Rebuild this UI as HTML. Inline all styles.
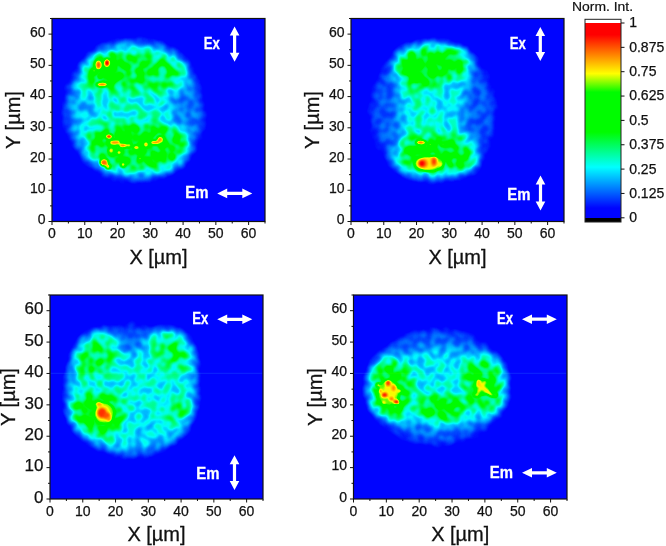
<!DOCTYPE html><html><head><meta charset="utf-8"><style>html,body{margin:0;padding:0;background:#fff;overflow:hidden}svg{display:block}</style></head><body><svg width="666" height="546" viewBox="0 0 666 546" font-family='"Liberation Sans", sans-serif'><defs><linearGradient id="cb" x1="0" y1="0" x2="0" y2="1"><stop offset="0" stop-color="#fff"/><stop offset="0.0173" stop-color="#fff"/><stop offset="0.0183" stop-color="rgb(255,0,0)"/><stop offset="0.0759" stop-color="rgb(255,0,0)"/><stop offset="0.2681" stop-color="rgb(255,255,0)"/><stop offset="0.3594" stop-color="rgb(0,252,0)"/><stop offset="0.5564" stop-color="rgb(0,252,0)"/><stop offset="0.7294" stop-color="rgb(0,255,255)"/><stop offset="0.9312" stop-color="rgb(0,4,255)"/><stop offset="0.9793" stop-color="rgb(0,4,255)"/><stop offset="0.9808" stop-color="#000"/><stop offset="1" stop-color="#000"/></linearGradient><clipPath id="c0"><rect x="0" y="0" width="213" height="203.0"/></clipPath><filter id="f0" x="0" y="0" width="213" height="203.0" filterUnits="userSpaceOnUse" color-interpolation-filters="sRGB">
<feComponentTransfer><feFuncR type="table" tableValues="0.000 0.000 0.000 0.000 0.000 0.000 0.000 0.000 0.000 0.000 0.000 0.000 0.000 0.000 0.000 0.000 0.000 0.000 0.000 0.000 0.000 0.000 0.000 0.000 0.000 0.000 0.000 0.000 0.000 0.000 0.000 0.000 0.000 0.000 0.000 0.000 0.000 0.000 0.000 0.000 0.000 0.061 0.228 0.395 0.562 0.729 0.896 1.000 1.000 1.000 1.000 1.000 1.000 1.000 1.000 1.000 1.000 1.000 1.000 1.000 1.000 1.000 1.000 1.000"/><feFuncG type="table" tableValues="0.016 0.016 0.016 0.016 0.079 0.153 0.228 0.302 0.377 0.451 0.525 0.600 0.674 0.749 0.823 0.897 0.972 0.999 0.998 0.997 0.996 0.995 0.994 0.993 0.992 0.991 0.990 0.989 0.988 0.988 0.988 0.988 0.988 0.988 0.988 0.988 0.988 0.988 0.988 0.988 0.988 0.989 0.991 0.993 0.995 0.997 0.999 0.970 0.890 0.811 0.732 0.652 0.573 0.494 0.414 0.335 0.256 0.176 0.097 0.017 0.000 0.000 0.000 0.000"/><feFuncB type="table" tableValues="1.000 1.000 1.000 1.000 1.000 1.000 1.000 1.000 1.000 1.000 1.000 1.000 1.000 1.000 1.000 1.000 1.000 0.945 0.857 0.769 0.681 0.593 0.504 0.416 0.328 0.240 0.152 0.063 0.000 0.000 0.000 0.000 0.000 0.000 0.000 0.000 0.000 0.000 0.000 0.000 0.000 0.000 0.000 0.000 0.000 0.000 0.000 0.000 0.000 0.000 0.000 0.000 0.000 0.000 0.000 0.000 0.000 0.000 0.000 0.000 0.000 0.000 0.000 0.000"/><feFuncA type="linear" slope="0" intercept="1"/></feComponentTransfer>
</filter>
<filter id="s0" x="0" y="0" width="213" height="203.0" filterUnits="userSpaceOnUse" color-interpolation-filters="sRGB">
<feGaussianBlur in="SourceGraphic" stdDeviation="6" result="bl"/>
<feTurbulence type="fractalNoise" baseFrequency="0.14" numOctaves="1" seed="3" result="t"/>
<feColorMatrix in="t" type="matrix" values="1 0 0 0 0  1 0 0 0 0  1 0 0 0 0  0 0 0 0 1" result="g"/>
<feComponentTransfer in="g" result="n"><feFuncR type="linear" slope="4" intercept="-1.500"/><feFuncG type="linear" slope="4" intercept="-1.500"/><feFuncB type="linear" slope="4" intercept="-1.500"/></feComponentTransfer>
<feComposite in="bl" in2="n" operator="arithmetic" k1="0.450" k2="0.700" k3="0" k4="0"/>
<feGaussianBlur stdDeviation="1.3"/>
</filter>
<filter id="h0" x="-20" y="-20" width="253" height="243.0" filterUnits="userSpaceOnUse" color-interpolation-filters="sRGB"><feGaussianBlur stdDeviation="1.0"/></filter><clipPath id="c1"><rect x="0" y="0" width="213" height="203.0"/></clipPath><filter id="f1" x="0" y="0" width="213" height="203.0" filterUnits="userSpaceOnUse" color-interpolation-filters="sRGB">
<feComponentTransfer><feFuncR type="table" tableValues="0.000 0.000 0.000 0.000 0.000 0.000 0.000 0.000 0.000 0.000 0.000 0.000 0.000 0.000 0.000 0.000 0.000 0.000 0.000 0.000 0.000 0.000 0.000 0.000 0.000 0.000 0.000 0.000 0.000 0.000 0.000 0.000 0.000 0.000 0.000 0.000 0.000 0.000 0.000 0.000 0.000 0.061 0.228 0.395 0.562 0.729 0.896 1.000 1.000 1.000 1.000 1.000 1.000 1.000 1.000 1.000 1.000 1.000 1.000 1.000 1.000 1.000 1.000 1.000"/><feFuncG type="table" tableValues="0.016 0.016 0.016 0.016 0.079 0.153 0.228 0.302 0.377 0.451 0.525 0.600 0.674 0.749 0.823 0.897 0.972 0.999 0.998 0.997 0.996 0.995 0.994 0.993 0.992 0.991 0.990 0.989 0.988 0.988 0.988 0.988 0.988 0.988 0.988 0.988 0.988 0.988 0.988 0.988 0.988 0.989 0.991 0.993 0.995 0.997 0.999 0.970 0.890 0.811 0.732 0.652 0.573 0.494 0.414 0.335 0.256 0.176 0.097 0.017 0.000 0.000 0.000 0.000"/><feFuncB type="table" tableValues="1.000 1.000 1.000 1.000 1.000 1.000 1.000 1.000 1.000 1.000 1.000 1.000 1.000 1.000 1.000 1.000 1.000 0.945 0.857 0.769 0.681 0.593 0.504 0.416 0.328 0.240 0.152 0.063 0.000 0.000 0.000 0.000 0.000 0.000 0.000 0.000 0.000 0.000 0.000 0.000 0.000 0.000 0.000 0.000 0.000 0.000 0.000 0.000 0.000 0.000 0.000 0.000 0.000 0.000 0.000 0.000 0.000 0.000 0.000 0.000 0.000 0.000 0.000 0.000"/><feFuncA type="linear" slope="0" intercept="1"/></feComponentTransfer>
</filter>
<filter id="s1" x="0" y="0" width="213" height="203.0" filterUnits="userSpaceOnUse" color-interpolation-filters="sRGB">
<feGaussianBlur in="SourceGraphic" stdDeviation="6" result="bl"/>
<feTurbulence type="fractalNoise" baseFrequency="0.14" numOctaves="1" seed="4" result="t"/>
<feColorMatrix in="t" type="matrix" values="1 0 0 0 0  1 0 0 0 0  1 0 0 0 0  0 0 0 0 1" result="g"/>
<feComponentTransfer in="g" result="n"><feFuncR type="linear" slope="4" intercept="-1.500"/><feFuncG type="linear" slope="4" intercept="-1.500"/><feFuncB type="linear" slope="4" intercept="-1.500"/></feComponentTransfer>
<feComposite in="bl" in2="n" operator="arithmetic" k1="0.450" k2="0.700" k3="0" k4="0"/>
<feGaussianBlur stdDeviation="1.3"/>
</filter>
<filter id="h1" x="-20" y="-20" width="253" height="243.0" filterUnits="userSpaceOnUse" color-interpolation-filters="sRGB"><feGaussianBlur stdDeviation="1.0"/></filter><clipPath id="c2"><rect x="0" y="0" width="213" height="204"/></clipPath><filter id="f2" x="0" y="0" width="213" height="204" filterUnits="userSpaceOnUse" color-interpolation-filters="sRGB">
<feComponentTransfer><feFuncR type="table" tableValues="0.000 0.000 0.000 0.000 0.000 0.000 0.000 0.000 0.000 0.000 0.000 0.000 0.000 0.000 0.000 0.000 0.000 0.000 0.000 0.000 0.000 0.000 0.000 0.000 0.000 0.000 0.000 0.000 0.000 0.000 0.000 0.000 0.000 0.000 0.000 0.000 0.000 0.000 0.000 0.000 0.000 0.061 0.228 0.395 0.562 0.729 0.896 1.000 1.000 1.000 1.000 1.000 1.000 1.000 1.000 1.000 1.000 1.000 1.000 1.000 1.000 1.000 1.000 1.000"/><feFuncG type="table" tableValues="0.016 0.016 0.016 0.016 0.079 0.153 0.228 0.302 0.377 0.451 0.525 0.600 0.674 0.749 0.823 0.897 0.972 0.999 0.998 0.997 0.996 0.995 0.994 0.993 0.992 0.991 0.990 0.989 0.988 0.988 0.988 0.988 0.988 0.988 0.988 0.988 0.988 0.988 0.988 0.988 0.988 0.989 0.991 0.993 0.995 0.997 0.999 0.970 0.890 0.811 0.732 0.652 0.573 0.494 0.414 0.335 0.256 0.176 0.097 0.017 0.000 0.000 0.000 0.000"/><feFuncB type="table" tableValues="1.000 1.000 1.000 1.000 1.000 1.000 1.000 1.000 1.000 1.000 1.000 1.000 1.000 1.000 1.000 1.000 1.000 0.945 0.857 0.769 0.681 0.593 0.504 0.416 0.328 0.240 0.152 0.063 0.000 0.000 0.000 0.000 0.000 0.000 0.000 0.000 0.000 0.000 0.000 0.000 0.000 0.000 0.000 0.000 0.000 0.000 0.000 0.000 0.000 0.000 0.000 0.000 0.000 0.000 0.000 0.000 0.000 0.000 0.000 0.000 0.000 0.000 0.000 0.000"/><feFuncA type="linear" slope="0" intercept="1"/></feComponentTransfer>
</filter>
<filter id="s2" x="0" y="0" width="213" height="204" filterUnits="userSpaceOnUse" color-interpolation-filters="sRGB">
<feGaussianBlur in="SourceGraphic" stdDeviation="6" result="bl"/>
<feTurbulence type="fractalNoise" baseFrequency="0.14" numOctaves="1" seed="5" result="t"/>
<feColorMatrix in="t" type="matrix" values="1 0 0 0 0  1 0 0 0 0  1 0 0 0 0  0 0 0 0 1" result="g"/>
<feComponentTransfer in="g" result="n"><feFuncR type="linear" slope="4" intercept="-1.500"/><feFuncG type="linear" slope="4" intercept="-1.500"/><feFuncB type="linear" slope="4" intercept="-1.500"/></feComponentTransfer>
<feComposite in="bl" in2="n" operator="arithmetic" k1="0.450" k2="0.700" k3="0" k4="0"/>
<feGaussianBlur stdDeviation="1.3"/>
</filter>
<filter id="h2" x="-20" y="-20" width="253" height="244" filterUnits="userSpaceOnUse" color-interpolation-filters="sRGB"><feGaussianBlur stdDeviation="1.0"/></filter><clipPath id="c3"><rect x="0" y="0" width="213.5" height="204"/></clipPath><filter id="f3" x="0" y="0" width="213.5" height="204" filterUnits="userSpaceOnUse" color-interpolation-filters="sRGB">
<feComponentTransfer><feFuncR type="table" tableValues="0.000 0.000 0.000 0.000 0.000 0.000 0.000 0.000 0.000 0.000 0.000 0.000 0.000 0.000 0.000 0.000 0.000 0.000 0.000 0.000 0.000 0.000 0.000 0.000 0.000 0.000 0.000 0.000 0.000 0.000 0.000 0.000 0.000 0.000 0.000 0.000 0.000 0.000 0.000 0.000 0.000 0.061 0.228 0.395 0.562 0.729 0.896 1.000 1.000 1.000 1.000 1.000 1.000 1.000 1.000 1.000 1.000 1.000 1.000 1.000 1.000 1.000 1.000 1.000"/><feFuncG type="table" tableValues="0.016 0.016 0.016 0.016 0.079 0.153 0.228 0.302 0.377 0.451 0.525 0.600 0.674 0.749 0.823 0.897 0.972 0.999 0.998 0.997 0.996 0.995 0.994 0.993 0.992 0.991 0.990 0.989 0.988 0.988 0.988 0.988 0.988 0.988 0.988 0.988 0.988 0.988 0.988 0.988 0.988 0.989 0.991 0.993 0.995 0.997 0.999 0.970 0.890 0.811 0.732 0.652 0.573 0.494 0.414 0.335 0.256 0.176 0.097 0.017 0.000 0.000 0.000 0.000"/><feFuncB type="table" tableValues="1.000 1.000 1.000 1.000 1.000 1.000 1.000 1.000 1.000 1.000 1.000 1.000 1.000 1.000 1.000 1.000 1.000 0.945 0.857 0.769 0.681 0.593 0.504 0.416 0.328 0.240 0.152 0.063 0.000 0.000 0.000 0.000 0.000 0.000 0.000 0.000 0.000 0.000 0.000 0.000 0.000 0.000 0.000 0.000 0.000 0.000 0.000 0.000 0.000 0.000 0.000 0.000 0.000 0.000 0.000 0.000 0.000 0.000 0.000 0.000 0.000 0.000 0.000 0.000"/><feFuncA type="linear" slope="0" intercept="1"/></feComponentTransfer>
</filter>
<filter id="s3" x="0" y="0" width="213.5" height="204" filterUnits="userSpaceOnUse" color-interpolation-filters="sRGB">
<feGaussianBlur in="SourceGraphic" stdDeviation="6" result="bl"/>
<feTurbulence type="fractalNoise" baseFrequency="0.14" numOctaves="1" seed="6" result="t"/>
<feColorMatrix in="t" type="matrix" values="1 0 0 0 0  1 0 0 0 0  1 0 0 0 0  0 0 0 0 1" result="g"/>
<feComponentTransfer in="g" result="n"><feFuncR type="linear" slope="4" intercept="-1.500"/><feFuncG type="linear" slope="4" intercept="-1.500"/><feFuncB type="linear" slope="4" intercept="-1.500"/></feComponentTransfer>
<feComposite in="bl" in2="n" operator="arithmetic" k1="0.450" k2="0.700" k3="0" k4="0"/>
<feGaussianBlur stdDeviation="1.3"/>
</filter>
<filter id="h3" x="-20" y="-20" width="253.5" height="244" filterUnits="userSpaceOnUse" color-interpolation-filters="sRGB"><feGaussianBlur stdDeviation="1.0"/></filter></defs><g transform="translate(52,18.5)" clip-path="url(#c0)"><g filter="url(#f0)"><rect x="0" y="0" width="213" height="203.0" fill="#000"/><g filter="url(#s0)"><rect x="-30" y="-30" width="273" height="263.0" fill="#000"/><ellipse cx="82" cy="92" rx="70" ry="72" fill="rgb(36,36,36)"/><ellipse cx="28" cy="92" rx="16" ry="36" fill="rgb(43,43,43)"/><path d="M56,29 L84,27 L112,30 L129,40 L138,53 L136,66 L122,74 L116,90 L121,106 L139,116 L138,134 L127,148 L104,154 L68,153 L45,144 L32,127 L24,105 L22,82 L27,60 L38,41Z" fill="rgb(79,79,79)"/><path d="M120,64 L140,60 L150,80 L152,105 L146,125 L132,122 L120,110 L115,90Z" fill="rgb(43,43,43)"/><path d="M38,40 L60,33 L90,34 L115,37 L130,48 L133,62 L120,70 L80,71 L45,70 L34,58Z" fill="rgb(112,112,112)"/><ellipse cx="55" cy="52" rx="20" ry="15" fill="rgb(138,138,138)"/><ellipse cx="34" cy="90" rx="12" ry="15" fill="rgb(56,56,56)"/><path d="M40,112 L70,106 L100,107 L126,111 L135,123 L129,140 L113,150 L75,151 L50,146 L36,133Z" fill="rgb(128,128,128)"/></g><g filter="url(#h0)"><ellipse cx="46.5" cy="46.5" rx="4" ry="5.5" fill="rgb(184,184,184)"/><ellipse cx="55" cy="44.5" rx="3.6" ry="4.8" fill="rgb(184,184,184)"/><ellipse cx="46.5" cy="46.5" rx="2.2" ry="3.4" fill="rgb(224,224,224)"/><ellipse cx="55" cy="44.5" rx="2.2" ry="3" fill="rgb(245,245,245)"/><ellipse cx="50" cy="66" rx="6" ry="2.2" fill="rgb(217,217,217)"/><ellipse cx="48" cy="58" rx="1.5" ry="1.8" fill="rgb(199,199,199)"/><ellipse cx="42" cy="52" rx="1.5" ry="1.5" fill="rgb(194,194,194)"/><ellipse cx="57" cy="118" rx="3.5" ry="2.5" fill="rgb(230,230,230)"/><ellipse cx="63" cy="124" rx="5" ry="2.2" fill="rgb(214,214,214)"/><ellipse cx="71" cy="127" rx="4" ry="2.2" fill="rgb(214,214,214)"/><ellipse cx="77" cy="127" rx="2.5" ry="1.8" fill="rgb(199,199,199)"/><ellipse cx="84" cy="129" rx="3" ry="2.2" fill="rgb(204,204,204)"/><ellipse cx="94" cy="126" rx="2.5" ry="3" fill="rgb(199,199,199)"/><ellipse cx="103" cy="124" rx="4.5" ry="2.2" fill="rgb(214,214,214)"/><ellipse cx="108" cy="121" rx="3" ry="3.2" fill="rgb(209,209,209)"/><ellipse cx="52" cy="144" rx="4" ry="3.5" fill="rgb(219,219,219)"/><ellipse cx="56" cy="148" rx="2.5" ry="2.5" fill="rgb(204,204,204)"/><ellipse cx="59" cy="132" rx="2.5" ry="2.5" fill="rgb(194,194,194)"/><ellipse cx="67" cy="134" rx="2.5" ry="2.5" fill="rgb(194,194,194)"/><ellipse cx="71" cy="146" rx="2.5" ry="2.5" fill="rgb(194,194,194)"/><ellipse cx="88" cy="140" rx="2" ry="2" fill="rgb(189,189,189)"/></g></g></g><g transform="translate(351,18.5)" clip-path="url(#c1)"><g filter="url(#f1)"><rect x="0" y="0" width="213" height="203.0" fill="#000"/><g filter="url(#s1)"><rect x="-30" y="-30" width="273" height="263.0" fill="#000"/><ellipse cx="82" cy="93" rx="64" ry="70" fill="rgb(33,33,33)"/><path d="M46,40 L60,30 L82,27 L104,29 L120,38 L116,60 L112,90 L114,118 L130,138 L124,152 L100,157 L70,157 L42,148 L48,120 L50,90 L46,62Z" fill="rgb(69,69,69)"/><path d="M48,36 L60,30 L80,28 L100,29 L114,34 L119,43 L110,55 L95,60 L75,68 L58,70 L50,58 L45,46Z" fill="rgb(138,138,138)"/><ellipse cx="70" cy="90" rx="15" ry="20" fill="rgb(82,82,82)"/><path d="M55,119 L85,116 L112,119 L122,134 L122,149 L106,153 L75,154 L52,150 L47,138Z" fill="rgb(128,128,128)"/></g><g filter="url(#h1)"><ellipse cx="78" cy="145" rx="15" ry="8" fill="rgb(173,173,173)"/><ellipse cx="76" cy="145" rx="11" ry="6.5" fill="rgb(191,191,191)"/><ellipse cx="72" cy="145" rx="5" ry="4.5" fill="rgb(214,214,214)"/><ellipse cx="83" cy="143" rx="3.5" ry="5.5" fill="rgb(209,209,209)"/><ellipse cx="71" cy="145" rx="2.8" ry="2.8" fill="rgb(242,242,242)"/><ellipse cx="83" cy="143" rx="1.8" ry="3" fill="rgb(230,230,230)"/><ellipse cx="89" cy="146" rx="3" ry="2.5" fill="rgb(189,189,189)"/><ellipse cx="70" cy="124" rx="5.5" ry="2.2" fill="rgb(209,209,209)"/><ellipse cx="69" cy="124" rx="2.5" ry="1.5" fill="rgb(224,224,224)"/><ellipse cx="79" cy="126" rx="2" ry="1.5" fill="rgb(189,189,189)"/><ellipse cx="92" cy="126" rx="2.5" ry="1.5" fill="rgb(184,184,184)"/></g></g></g><g transform="translate(50,295)" clip-path="url(#c2)"><g filter="url(#f2)"><rect x="0" y="0" width="213" height="204" fill="#000"/><g filter="url(#s2)"><rect x="-30" y="-30" width="273" height="264" fill="#000"/><ellipse cx="81" cy="97" rx="66" ry="65" fill="rgb(38,38,38)"/><path d="M30,45 L45,35 L60,35 L68,42 L80,64 L94,44 L102,36 L122,34 L138,43 L145,62 L146,90 L144,115 L136,135 L118,150 L90,155 L60,153 L40,144 L26,128 L20,105 L20,80 L23,60Z" fill="rgb(74,74,74)"/><ellipse cx="81" cy="42" rx="15" ry="15" fill="rgb(33,33,33)"/><path d="M30,52 L45,42 L60,44 L66,58 L60,76 L45,84 L30,80 L26,66Z" fill="rgb(112,112,112)"/><path d="M106,40 L122,38 L138,48 L142,64 L138,76 L120,72 L108,64 L104,52Z" fill="rgb(110,110,110)"/><path d="M22,104 L40,98 L62,100 L74,112 L72,130 L60,142 L40,142 L26,132 L20,118Z" fill="rgb(128,128,128)"/><ellipse cx="127" cy="116" rx="16" ry="8" fill="rgb(117,117,117)"/><ellipse cx="95" cy="138" rx="24" ry="13" fill="rgb(64,64,64)"/></g><g filter="url(#h2)"><ellipse cx="54" cy="118" rx="10" ry="11" fill="rgb(178,178,178)"/><ellipse cx="53" cy="118" rx="7" ry="7.5" fill="rgb(194,194,194)"/><ellipse cx="52" cy="118" rx="4.5" ry="5" fill="rgb(230,230,230)"/><ellipse cx="57" cy="121" rx="3.5" ry="3.5" fill="rgb(224,224,224)"/><ellipse cx="49" cy="109" rx="3.5" ry="2.5" fill="rgb(204,204,204)"/><ellipse cx="59" cy="124" rx="2.5" ry="2.5" fill="rgb(209,209,209)"/><ellipse cx="41" cy="126" rx="2" ry="3" fill="rgb(168,168,168)"/></g></g></g><g transform="translate(353.5,295)" clip-path="url(#c3)"><g filter="url(#f3)"><rect x="0" y="0" width="213.5" height="204" fill="#000"/><g filter="url(#s3)"><rect x="-30" y="-30" width="273.5" height="264" fill="#000"/><ellipse cx="84" cy="92" rx="70" ry="58" fill="rgb(38,38,38)"/><path d="M20,70 L34,60 L55,62 L75,55 L100,56 L118,62 L138,60 L150,72 L152,95 L148,114 L136,122 L112,126 L88,130 L62,124 L40,126 L22,118 L16,95Z" fill="rgb(71,71,71)"/><path d="M20,72 L34,64 L50,70 L58,90 L56,112 L48,124 L30,122 L18,110 L16,90Z" fill="rgb(128,128,128)"/><path d="M114,66 L136,63 L148,74 L150,96 L146,111 L134,116 L118,114 L112,98 L110,80Z" fill="rgb(122,122,122)"/><path d="M68,104 L90,100 L108,104 L110,118 L98,126 L78,127 L66,120Z" fill="rgb(133,133,133)"/></g><g filter="url(#h3)"><ellipse cx="35" cy="98" rx="11" ry="13" fill="rgb(173,173,173)"/><ellipse cx="37" cy="96" rx="7" ry="8" fill="rgb(189,189,189)"/><ellipse cx="34.5" cy="88" rx="2.5" ry="3" fill="rgb(230,230,230)"/><ellipse cx="31" cy="100" rx="3" ry="2.5" fill="rgb(235,235,235)"/><ellipse cx="43" cy="107" rx="3" ry="2.5" fill="rgb(235,235,235)"/><ellipse cx="38" cy="104" rx="2.5" ry="2" fill="rgb(219,219,219)"/><ellipse cx="27" cy="96" rx="2" ry="2" fill="rgb(209,209,209)"/><ellipse cx="40" cy="93" rx="2" ry="3" fill="rgb(214,214,214)"/><ellipse cx="24.5" cy="90" rx="2" ry="2" fill="rgb(204,204,204)"/><ellipse cx="30" cy="108" rx="2" ry="2" fill="rgb(199,199,199)"/><ellipse cx="46" cy="96" rx="2" ry="2" fill="rgb(199,199,199)"/><ellipse cx="129" cy="92" rx="8" ry="8" fill="rgb(158,158,158)"/><ellipse cx="132" cy="95" rx="10" ry="2.2" fill="rgb(194,194,194)" transform="rotate(40 132 95)"/><ellipse cx="128" cy="92" rx="8" ry="2" fill="rgb(191,191,191)" transform="rotate(-55 128 92)"/><ellipse cx="125" cy="88" rx="3" ry="4.5" fill="rgb(196,196,196)"/><ellipse cx="123" cy="100" rx="3" ry="1.8" fill="rgb(189,189,189)"/><ellipse cx="142" cy="100" rx="2" ry="2" fill="rgb(184,184,184)"/></g></g></g><g stroke="rgb(12,34,0)" stroke-width="1" style="mix-blend-mode:screen"><line x1="50.5" y1="373.3" x2="262.5" y2="373.3"/><line x1="354" y1="373.3" x2="566.5" y2="373.3"/></g><g stroke="#111" stroke-width="1"><line x1="52.00" y1="221.5" x2="52.00" y2="225.0" /><line x1="48.5" y1="221.50" x2="52" y2="221.50" /><line x1="68.38" y1="221.5" x2="68.38" y2="223.5" /><line x1="50.0" y1="205.88" x2="52" y2="205.88" /><line x1="84.77" y1="221.5" x2="84.77" y2="225.0" /><line x1="48.5" y1="190.27" x2="52" y2="190.27" /><line x1="101.15" y1="221.5" x2="101.15" y2="223.5" /><line x1="50.0" y1="174.65" x2="52" y2="174.65" /><line x1="117.54" y1="221.5" x2="117.54" y2="225.0" /><line x1="48.5" y1="159.04" x2="52" y2="159.04" /><line x1="133.92" y1="221.5" x2="133.92" y2="223.5" /><line x1="50.0" y1="143.42" x2="52" y2="143.42" /><line x1="150.31" y1="221.5" x2="150.31" y2="225.0" /><line x1="48.5" y1="127.81" x2="52" y2="127.81" /><line x1="166.69" y1="221.5" x2="166.69" y2="223.5" /><line x1="50.0" y1="112.19" x2="52" y2="112.19" /><line x1="183.08" y1="221.5" x2="183.08" y2="225.0" /><line x1="48.5" y1="96.58" x2="52" y2="96.58" /><line x1="199.46" y1="221.5" x2="199.46" y2="223.5" /><line x1="50.0" y1="80.96" x2="52" y2="80.96" /><line x1="215.85" y1="221.5" x2="215.85" y2="225.0" /><line x1="48.5" y1="65.35" x2="52" y2="65.35" /><line x1="232.23" y1="221.5" x2="232.23" y2="223.5" /><line x1="50.0" y1="49.73" x2="52" y2="49.73" /><line x1="248.62" y1="221.5" x2="248.62" y2="225.0" /><line x1="48.5" y1="34.12" x2="52" y2="34.12" /><line x1="265.00" y1="221.5" x2="265.00" y2="223.5" /><line x1="50.0" y1="18.50" x2="52" y2="18.50" /></g><g fill="#111" stroke="#111" stroke-width="0.25"><text x="52.00" y="238.20" text-anchor="middle" font-size="14">0</text><text x="45.50" y="224.30" text-anchor="end" font-size="14">0</text><text x="84.77" y="238.20" text-anchor="middle" font-size="14">10</text><text x="45.50" y="193.07" text-anchor="end" font-size="14">10</text><text x="117.54" y="238.20" text-anchor="middle" font-size="14">20</text><text x="45.50" y="161.84" text-anchor="end" font-size="14">20</text><text x="150.31" y="238.20" text-anchor="middle" font-size="14">30</text><text x="45.50" y="130.61" text-anchor="end" font-size="14">30</text><text x="183.08" y="238.20" text-anchor="middle" font-size="14">40</text><text x="45.50" y="99.38" text-anchor="end" font-size="14">40</text><text x="215.85" y="238.20" text-anchor="middle" font-size="14">50</text><text x="45.50" y="68.15" text-anchor="end" font-size="14">50</text><text x="248.62" y="238.20" text-anchor="middle" font-size="14">60</text><text x="45.50" y="36.92" text-anchor="end" font-size="14">60</text></g><text x="158.50" y="263.70" text-anchor="middle" font-size="20" fill="#111" stroke="#111" stroke-width="0.3">X [µm]</text><text transform="translate(20.10,120.00) rotate(-90)" text-anchor="middle" font-size="20" fill="#111" stroke="#111" stroke-width="0.3">Y [µm]</text><rect x="52" y="18.5" width="213" height="203.0" fill="none" stroke="#111" stroke-width="1.2"/><g stroke="#111" stroke-width="1"><line x1="351.00" y1="221.5" x2="351.00" y2="225.0" /><line x1="347.5" y1="221.50" x2="351" y2="221.50" /><line x1="367.38" y1="221.5" x2="367.38" y2="223.5" /><line x1="349.0" y1="205.88" x2="351" y2="205.88" /><line x1="383.77" y1="221.5" x2="383.77" y2="225.0" /><line x1="347.5" y1="190.27" x2="351" y2="190.27" /><line x1="400.15" y1="221.5" x2="400.15" y2="223.5" /><line x1="349.0" y1="174.65" x2="351" y2="174.65" /><line x1="416.54" y1="221.5" x2="416.54" y2="225.0" /><line x1="347.5" y1="159.04" x2="351" y2="159.04" /><line x1="432.92" y1="221.5" x2="432.92" y2="223.5" /><line x1="349.0" y1="143.42" x2="351" y2="143.42" /><line x1="449.31" y1="221.5" x2="449.31" y2="225.0" /><line x1="347.5" y1="127.81" x2="351" y2="127.81" /><line x1="465.69" y1="221.5" x2="465.69" y2="223.5" /><line x1="349.0" y1="112.19" x2="351" y2="112.19" /><line x1="482.08" y1="221.5" x2="482.08" y2="225.0" /><line x1="347.5" y1="96.58" x2="351" y2="96.58" /><line x1="498.46" y1="221.5" x2="498.46" y2="223.5" /><line x1="349.0" y1="80.96" x2="351" y2="80.96" /><line x1="514.85" y1="221.5" x2="514.85" y2="225.0" /><line x1="347.5" y1="65.35" x2="351" y2="65.35" /><line x1="531.23" y1="221.5" x2="531.23" y2="223.5" /><line x1="349.0" y1="49.73" x2="351" y2="49.73" /><line x1="547.62" y1="221.5" x2="547.62" y2="225.0" /><line x1="347.5" y1="34.12" x2="351" y2="34.12" /><line x1="564.00" y1="221.5" x2="564.00" y2="223.5" /><line x1="349.0" y1="18.50" x2="351" y2="18.50" /></g><g fill="#111" stroke="#111" stroke-width="0.25"><text x="351.00" y="238.20" text-anchor="middle" font-size="14">0</text><text x="344.50" y="224.30" text-anchor="end" font-size="14">0</text><text x="383.77" y="238.20" text-anchor="middle" font-size="14">10</text><text x="344.50" y="193.07" text-anchor="end" font-size="14">10</text><text x="416.54" y="238.20" text-anchor="middle" font-size="14">20</text><text x="344.50" y="161.84" text-anchor="end" font-size="14">20</text><text x="449.31" y="238.20" text-anchor="middle" font-size="14">30</text><text x="344.50" y="130.61" text-anchor="end" font-size="14">30</text><text x="482.08" y="238.20" text-anchor="middle" font-size="14">40</text><text x="344.50" y="99.38" text-anchor="end" font-size="14">40</text><text x="514.85" y="238.20" text-anchor="middle" font-size="14">50</text><text x="344.50" y="68.15" text-anchor="end" font-size="14">50</text><text x="547.62" y="238.20" text-anchor="middle" font-size="14">60</text><text x="344.50" y="36.92" text-anchor="end" font-size="14">60</text></g><text x="457.50" y="263.70" text-anchor="middle" font-size="20" fill="#111" stroke="#111" stroke-width="0.3">X [µm]</text><text transform="translate(319.10,120.00) rotate(-90)" text-anchor="middle" font-size="20" fill="#111" stroke="#111" stroke-width="0.3">Y [µm]</text><rect x="351" y="18.5" width="213" height="203.0" fill="none" stroke="#111" stroke-width="1.2"/><g stroke="#111" stroke-width="1"><line x1="50.00" y1="499" x2="50.00" y2="502.5" /><line x1="46.5" y1="499.00" x2="50" y2="499.00" /><line x1="66.38" y1="499" x2="66.38" y2="501.0" /><line x1="48.0" y1="483.31" x2="50" y2="483.31" /><line x1="82.77" y1="499" x2="82.77" y2="502.5" /><line x1="46.5" y1="467.62" x2="50" y2="467.62" /><line x1="99.15" y1="499" x2="99.15" y2="501.0" /><line x1="48.0" y1="451.92" x2="50" y2="451.92" /><line x1="115.54" y1="499" x2="115.54" y2="502.5" /><line x1="46.5" y1="436.23" x2="50" y2="436.23" /><line x1="131.92" y1="499" x2="131.92" y2="501.0" /><line x1="48.0" y1="420.54" x2="50" y2="420.54" /><line x1="148.31" y1="499" x2="148.31" y2="502.5" /><line x1="46.5" y1="404.85" x2="50" y2="404.85" /><line x1="164.69" y1="499" x2="164.69" y2="501.0" /><line x1="48.0" y1="389.15" x2="50" y2="389.15" /><line x1="181.08" y1="499" x2="181.08" y2="502.5" /><line x1="46.5" y1="373.46" x2="50" y2="373.46" /><line x1="197.46" y1="499" x2="197.46" y2="501.0" /><line x1="48.0" y1="357.77" x2="50" y2="357.77" /><line x1="213.85" y1="499" x2="213.85" y2="502.5" /><line x1="46.5" y1="342.08" x2="50" y2="342.08" /><line x1="230.23" y1="499" x2="230.23" y2="501.0" /><line x1="48.0" y1="326.38" x2="50" y2="326.38" /><line x1="246.62" y1="499" x2="246.62" y2="502.5" /><line x1="46.5" y1="310.69" x2="50" y2="310.69" /><line x1="263.00" y1="499" x2="263.00" y2="501.0" /><line x1="48.0" y1="295.00" x2="50" y2="295.00" /></g><g fill="#111" stroke="#111" stroke-width="0.25"><text x="50.00" y="515.70" text-anchor="middle" font-size="14">0</text><text x="43.50" y="502.80" text-anchor="end" font-size="17">0</text><text x="82.77" y="515.70" text-anchor="middle" font-size="14">10</text><text x="43.50" y="471.42" text-anchor="end" font-size="17">10</text><text x="115.54" y="515.70" text-anchor="middle" font-size="14">20</text><text x="43.50" y="440.03" text-anchor="end" font-size="17">20</text><text x="148.31" y="515.70" text-anchor="middle" font-size="14">30</text><text x="43.50" y="408.65" text-anchor="end" font-size="17">30</text><text x="181.08" y="515.70" text-anchor="middle" font-size="14">40</text><text x="43.50" y="377.26" text-anchor="end" font-size="17">40</text><text x="213.85" y="515.70" text-anchor="middle" font-size="14">50</text><text x="43.50" y="345.88" text-anchor="end" font-size="17">50</text><text x="246.62" y="515.70" text-anchor="middle" font-size="14">60</text><text x="43.50" y="314.49" text-anchor="end" font-size="17">60</text></g><text x="156.50" y="541.20" text-anchor="middle" font-size="20" fill="#111" stroke="#111" stroke-width="0.3">X [µm]</text><text transform="translate(14.70,397.00) rotate(-90)" text-anchor="middle" font-size="20" fill="#111" stroke="#111" stroke-width="0.3">Y [µm]</text><rect x="50" y="295" width="213" height="204" fill="none" stroke="#111" stroke-width="1.2"/><g stroke="#111" stroke-width="1"><line x1="353.50" y1="499" x2="353.50" y2="502.5" /><line x1="350.0" y1="499.00" x2="353.5" y2="499.00" /><line x1="369.92" y1="499" x2="369.92" y2="501.0" /><line x1="351.5" y1="483.31" x2="353.5" y2="483.31" /><line x1="386.35" y1="499" x2="386.35" y2="502.5" /><line x1="350.0" y1="467.62" x2="353.5" y2="467.62" /><line x1="402.77" y1="499" x2="402.77" y2="501.0" /><line x1="351.5" y1="451.92" x2="353.5" y2="451.92" /><line x1="419.19" y1="499" x2="419.19" y2="502.5" /><line x1="350.0" y1="436.23" x2="353.5" y2="436.23" /><line x1="435.62" y1="499" x2="435.62" y2="501.0" /><line x1="351.5" y1="420.54" x2="353.5" y2="420.54" /><line x1="452.04" y1="499" x2="452.04" y2="502.5" /><line x1="350.0" y1="404.85" x2="353.5" y2="404.85" /><line x1="468.46" y1="499" x2="468.46" y2="501.0" /><line x1="351.5" y1="389.15" x2="353.5" y2="389.15" /><line x1="484.88" y1="499" x2="484.88" y2="502.5" /><line x1="350.0" y1="373.46" x2="353.5" y2="373.46" /><line x1="501.31" y1="499" x2="501.31" y2="501.0" /><line x1="351.5" y1="357.77" x2="353.5" y2="357.77" /><line x1="517.73" y1="499" x2="517.73" y2="502.5" /><line x1="350.0" y1="342.08" x2="353.5" y2="342.08" /><line x1="534.15" y1="499" x2="534.15" y2="501.0" /><line x1="351.5" y1="326.38" x2="353.5" y2="326.38" /><line x1="550.58" y1="499" x2="550.58" y2="502.5" /><line x1="350.0" y1="310.69" x2="353.5" y2="310.69" /><line x1="567.00" y1="499" x2="567.00" y2="501.0" /><line x1="351.5" y1="295.00" x2="353.5" y2="295.00" /></g><g fill="#111" stroke="#111" stroke-width="0.25"><text x="353.50" y="515.70" text-anchor="middle" font-size="14">0</text><text x="347.00" y="501.80" text-anchor="end" font-size="14">0</text><text x="386.35" y="515.70" text-anchor="middle" font-size="14">10</text><text x="347.00" y="470.42" text-anchor="end" font-size="14">10</text><text x="419.19" y="515.70" text-anchor="middle" font-size="14">20</text><text x="347.00" y="439.03" text-anchor="end" font-size="14">20</text><text x="452.04" y="515.70" text-anchor="middle" font-size="14">30</text><text x="347.00" y="407.65" text-anchor="end" font-size="14">30</text><text x="484.88" y="515.70" text-anchor="middle" font-size="14">40</text><text x="347.00" y="376.26" text-anchor="end" font-size="14">40</text><text x="517.73" y="515.70" text-anchor="middle" font-size="14">50</text><text x="347.00" y="344.88" text-anchor="end" font-size="14">50</text><text x="550.58" y="515.70" text-anchor="middle" font-size="14">60</text><text x="347.00" y="313.49" text-anchor="end" font-size="14">60</text></g><text x="460.25" y="541.20" text-anchor="middle" font-size="20" fill="#111" stroke="#111" stroke-width="0.3">X [µm]</text><text transform="translate(321.60,397.00) rotate(-90)" text-anchor="middle" font-size="20" fill="#111" stroke="#111" stroke-width="0.3">Y [µm]</text><rect x="353.5" y="295" width="213.5" height="204" fill="none" stroke="#111" stroke-width="1.2"/><text x="203.8" y="49.2" font-size="16.5" font-weight="bold" fill="#fff" stroke="#fff" stroke-width="0.3" textLength="16" lengthAdjust="spacingAndGlyphs">Ex</text><path d="M234.6,26.5 L239.4,35.5 L236.2,35.5 L236.2,52.7 L239.4,52.7 L234.6,61.7 L229.79999999999998,52.7 L233.0,52.7 L233.0,35.5 L229.79999999999998,35.5 Z" fill="#fff"/><text x="185.2" y="197.5" font-size="16.5" font-weight="bold" fill="#fff" stroke="#fff" stroke-width="0.3" textLength="23.2" lengthAdjust="spacingAndGlyphs">Em</text><path d="M217.2,193.4 L227.2,188.6 L227.2,191.8 L242.3,191.8 L242.3,188.6 L252.3,193.4 L242.3,198.20000000000002 L242.3,195.0 L227.2,195.0 L227.2,198.20000000000002 Z" fill="#fff"/><text x="509.8" y="48.8" font-size="16.5" font-weight="bold" fill="#fff" stroke="#fff" stroke-width="0.3" textLength="16" lengthAdjust="spacingAndGlyphs">Ex</text><path d="M540.3,27 L545.0999999999999,36 L541.9,36 L541.9,52 L545.0999999999999,52 L540.3,61 L535.5,52 L538.6999999999999,52 L538.6999999999999,36 L535.5,36 Z" fill="#fff"/><text x="507.2" y="199.8" font-size="16.5" font-weight="bold" fill="#fff" stroke="#fff" stroke-width="0.3" textLength="23.2" lengthAdjust="spacingAndGlyphs">Em</text><path d="M540.5,175.5 L545.3,184.5 L542.1,184.5 L542.1,201.4 L545.3,201.4 L540.5,210.4 L535.7,201.4 L538.9,201.4 L538.9,184.5 L535.7,184.5 Z" fill="#fff"/><text x="192.2" y="323.7" font-size="16.5" font-weight="bold" fill="#fff" stroke="#fff" stroke-width="0.3" textLength="16" lengthAdjust="spacingAndGlyphs">Ex</text><path d="M217.2,319.3 L227.2,314.5 L227.2,317.7 L242.3,317.7 L242.3,314.5 L252.3,319.3 L242.3,324.1 L242.3,320.90000000000003 L227.2,320.90000000000003 L227.2,324.1 Z" fill="#fff"/><text x="196.2" y="478.6" font-size="16.5" font-weight="bold" fill="#fff" stroke="#fff" stroke-width="0.3" textLength="23.2" lengthAdjust="spacingAndGlyphs">Em</text><path d="M234.5,455.2 L239.3,464.2 L236.1,464.2 L236.1,481 L239.3,481 L234.5,490 L229.7,481 L232.9,481 L232.9,464.2 L229.7,464.2 Z" fill="#fff"/><text x="497" y="324" font-size="16.5" font-weight="bold" fill="#fff" stroke="#fff" stroke-width="0.3" textLength="16" lengthAdjust="spacingAndGlyphs">Ex</text><path d="M522,319.2 L532,314.4 L532,317.59999999999997 L546.8,317.59999999999997 L546.8,314.4 L556.8,319.2 L546.8,324.0 L546.8,320.8 L532,320.8 L532,324.0 Z" fill="#fff"/><text x="489.8" y="477.6" font-size="16.5" font-weight="bold" fill="#fff" stroke="#fff" stroke-width="0.3" textLength="23.2" lengthAdjust="spacingAndGlyphs">Em</text><path d="M522,472.8 L532,468.0 L532,471.2 L546.8,471.2 L546.8,468.0 L556.8,472.8 L546.8,477.6 L546.8,474.40000000000003 L532,474.40000000000003 L532,477.6 Z" fill="#fff"/><rect x="585" y="19.3" width="36" height="202.7" fill="url(#cb)" stroke="#222" stroke-width="1"/><g stroke="#111" stroke-width="1"><line x1="621" y1="217.80" x2="624.5" y2="217.80"/><line x1="621" y1="193.45" x2="624.5" y2="193.45"/><line x1="621" y1="169.10" x2="624.5" y2="169.10"/><line x1="621" y1="144.75" x2="624.5" y2="144.75"/><line x1="621" y1="120.40" x2="624.5" y2="120.40"/><line x1="621" y1="96.05" x2="624.5" y2="96.05"/><line x1="621" y1="71.70" x2="624.5" y2="71.70"/><line x1="621" y1="47.35" x2="624.5" y2="47.35"/><line x1="621" y1="23.00" x2="624.5" y2="23.00"/></g><g font-size="14" fill="#111" stroke="#111" stroke-width="0.25"><text x="629.2" y="222.20">0</text><text x="629.2" y="197.85">0.125</text><text x="629.2" y="173.50">0.25</text><text x="629.2" y="149.15">0.375</text><text x="629.2" y="124.80">0.5</text><text x="629.2" y="100.45">0.625</text><text x="629.2" y="76.10">0.75</text><text x="629.2" y="51.75">0.875</text><text x="629.2" y="27.40">1</text></g><text x="572" y="11" font-size="13" fill="#111" stroke="#111" stroke-width="0.2" textLength="61" lengthAdjust="spacingAndGlyphs">Norm. Int.</text></svg></body></html>
